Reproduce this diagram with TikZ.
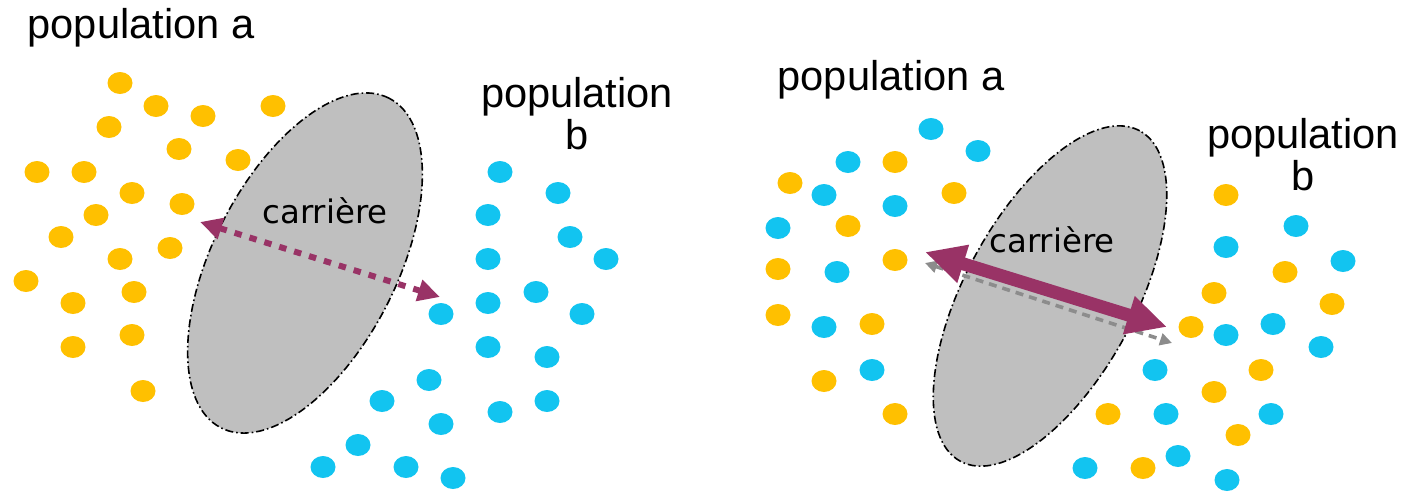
\documentclass[tikz,border=0pt]{standalone}
\usepackage{fontspec}
\setmainfont{Liberation Sans}
\newfontfamily\carfont{DejaVu Sans}
\usetikzlibrary{arrows.meta,shapes.geometric}
\definecolor{dotyellow}{RGB}{255,192,0}
\definecolor{dotblue}{RGB}{18,196,240}
\definecolor{plum}{RGB}{153,51,102}
\definecolor{wallgray}{RGB}{191,191,191}
\definecolor{dashgray}{RGB}{140,140,140}
\begin{document}
\begin{tikzpicture}[x=0.5pt,y=-0.5pt,
  dot/.style={ellipse,minimum width=12.5pt,minimum height=11pt,inner sep=0pt},
  ydot/.style={dot,fill=dotyellow},
  bdot/.style={dot,fill=dotblue},
  wall/.style={ellipse,draw=black,fill=wallgray,line width=0.8pt,
    dash pattern=on 4pt off 1.5pt on 0.8pt off 1.5pt,inner sep=0pt},
  poplabel/.style={font=\fontsize{20.8}{21}\selectfont,inner sep=0pt,align=center},
  carlabel/.style={font=\carfont\fontsize{16.2}{18}\selectfont,inner sep=0pt},
  dottedarrow/.style={plum,line width=3pt,dash pattern=on 3.7pt off 4.1pt,
    {Triangle[length=11pt,width=10.5pt]}-{Triangle[length=11pt,width=10.5pt]}},
  thickarrow/.style={plum,line width=6.5pt,
    {Triangle[length=20pt,width=18.5pt]}-{Triangle[length=20pt,width=18.5pt]}},
  grayarrow/.style={dashgray,line width=1.8pt,dash pattern=on 4pt off 3pt,
    {Triangle[length=6pt,width=6pt]}-{Triangle[length=6pt,width=6pt]}},
]
\useasboundingbox (0,0) rectangle (1406,493);
% ---------- left panel ----------
\foreach \x/\y [count=\i] in {120/83,156/106,203/116,273/106,109/127,179/149,238/160,
  37/172,84/172,132/193,182/204,96/215,61/237,170/248,120/259,26/281,134/292,73/303,
  132/335,73/347,143/391}
  \node[ydot] (la\i) at (\x,\y) {};
\foreach \x/\y [count=\i] in {500/172,558/193,488/215,570/237,488/259,606/259,488/303,
  536/292,441/314,582/314,488/347,547/357,429/380,382/401,500/412,547/401,441/424,
  358/445,323/467,406/467,453/478}
  \node[bdot] (lb\i) at (\x,\y) {};
\node[wall,minimum width=185pt,minimum height=92pt,rotate=63] (wallL) at (305,263) {};
\coordinate (lA) at (200,222);
\coordinate (lB) at (440,297);
\draw[dottedarrow] (lA) -- (lB);
\node[carlabel,anchor=base] (carL) at (325,223) {carrière};
\node[poplabel,anchor=base] (popLa) at (141,38) {population a};
\node[poplabel,anchor=north] (popLb) at (577,77) {population\\b};
% ---------- right panel ----------
\foreach \x/\y [count=\i] in {931/129,978/151,848/162,824/195,895/206,778/228,837/272,
  824/327,872/370,1296/226,1226/247,1343/261,1226/335,1273/324,1321/347,1155/370,
  1166/414,1271/414,1178/456,1085/468,1227/480}
  \node[bdot] (rb\i) at (\x,\y) {};
\foreach \x/\y [count=\i] in {895/162,790/183,954/193,848/226,778/269,895/260,778/315,
  872/324,824/381,895/414,1226/195,1285/272,1214/293,1332/304,1191/327,1261/370,
  1214/392,1108/414,1238/435,1143/468}
  \node[ydot] (ra\i) at (\x,\y) {};
\node[wall,minimum width=188pt,minimum height=85pt,rotate=61.5] (wallR) at (1050,296) {};
\coordinate (gA) at (925,263);
\coordinate (gB) at (1172,343);
\draw[grayarrow] (gA) -- (gB);
\coordinate (rA) at (925,252);
\coordinate (rB) at (1167,327);
\draw[thickarrow] (rA) -- (rB);
\node[carlabel,anchor=base] (carR) at (1052,252) {carrière};
\node[poplabel,anchor=base] (popRa) at (891,90) {population a};
\node[poplabel,anchor=north] (popRb) at (1303,118) {population\\b};
\end{tikzpicture}
\end{document}
